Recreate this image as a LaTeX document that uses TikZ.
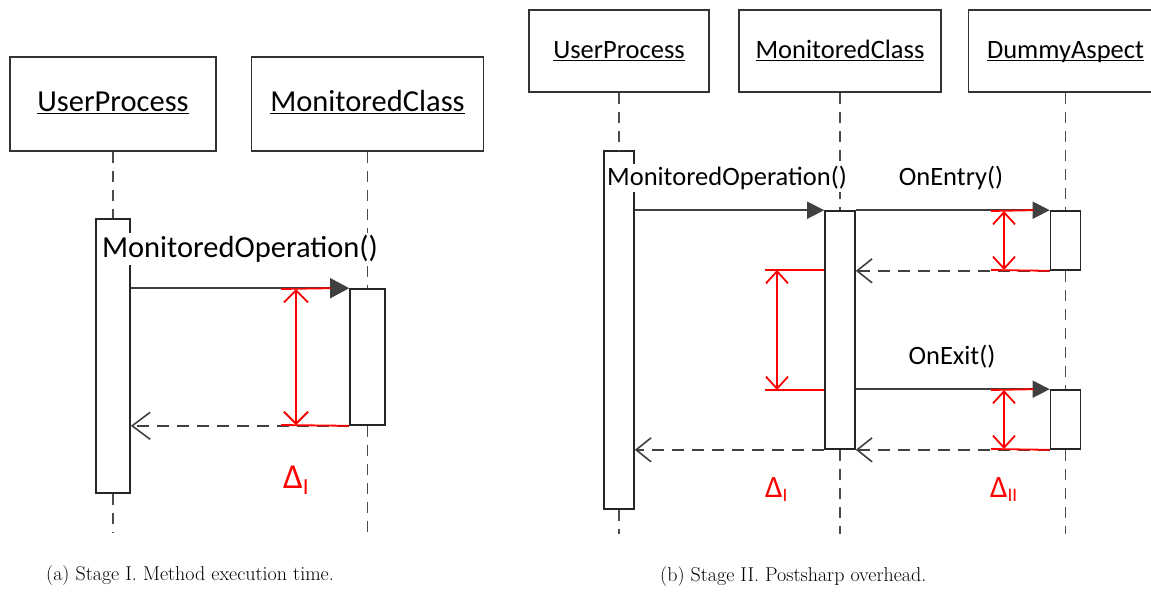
\documentclass[tikz,border=0pt]{standalone}
\usepackage{fontspec}
\newfontfamily\umlfont{Carlito}
\usetikzlibrary{arrows.meta,calc}

% underlined object name, the rule sitting just below the baseline
\newcommand{\objname}[1]{\underline{\smash{#1}}}

\tikzset{
  x=1pt, y=-1pt,
  head/.style={draw=black!80, line width=1.6pt, fill=white, inner sep=0pt, text height=1.6em, text depth=0.12em},
  umltext/.style={font=\umlfont\fontsize{#1}{#1}\selectfont},
  umltext/.default=26.5,
  bar/.style={draw=black!85, line width=1.6pt, fill=white, inner sep=0pt},
  life/.style={draw=black!70, line width=1.6pt, dash pattern=on 11pt off 8pt},
  msg/.style={fill=white, inner sep=2.5pt},
  callA/.style={draw=black!75, fill=black!75, line width=1.6pt, -{Triangle[length=19pt,width=20pt]}},
  callB/.style={draw=black!75, fill=black!75, line width=1.6pt, -{Triangle[length=17pt,width=17pt]}},
  retA/.style={draw=black!75, line width=1.6pt, dash pattern=on 12pt off 8pt, -{Straight Barb[length=18pt,width=27pt]}},
  retB/.style={draw=black!75, line width=1.6pt, dash pattern=on 12pt off 8pt, -{Straight Barb[length=15pt,width=24pt]}},
  redline/.style={draw=red, line width=1.8pt},
  measA/.style={draw=red, line width=1.8pt, {Straight Barb[length=12pt,width=24pt]}-{Straight Barb[length=12pt,width=24pt]}},
  measB/.style={draw=red, line width=1.8pt, {Straight Barb[length=12pt,width=22pt]}-{Straight Barb[length=12pt,width=22pt]}},
  delta/.style={text=red, inner sep=0pt, anchor=base west},
  caption/.style={inner sep=0pt, anchor=base west, font=\fontsize{20}{24}\selectfont},
}

\begin{document}
\begin{tikzpicture}
\useasboundingbox (0,0) rectangle (1151,592);

% ---------------- (a) Stage I ----------------
\node[head, umltext=30.5, minimum width=206, minimum height=94] (aU) at (113,104) {\objname{UserProcess}};
\node[head, umltext=30.5, minimum width=232, minimum height=94] (aM) at (367.5,104) {\objname{MonitoredClass}};

\node[bar, minimum width=34, minimum height=274] (aUa) at (113,356) {};
\node[bar, minimum width=35, minimum height=136] (aMa) at (367.5,357) {};

\coordinate (aUend) at (113,532);
\coordinate (aMend) at (367.5,532);
\draw[life] (aU.south) -- (aUa.north);
\draw[life] (aUa.south) -- (aUend);
\draw[life] (aM.south) -- (aMa.north);
\draw[life] (aMa.south) -- (aMend);

\node[msg, umltext=30.5] (aOp) at (240,249) {MonitoredOperation()};

\draw[callA] (aUa.east |- aMa.north west) -- (aMa.north west);
\draw[retA] (aMa.south west) -- (aUa.east |- aMa.south west);

% measured interval
\coordinate (aDt) at (296,289);
\coordinate (aDb) at (296,425);
\coordinate (aLt) at (281,289);
\coordinate (aLb) at (281,425);
\draw[redline] (aLt) -- ($(aMa.north west)+(-18,0)$);
\draw[redline] (aLb) -- (aMa.south west);
\draw[measA] (aDt) -- (aDb);
\node[delta, umltext=35] (aDelta) at (283,488) {Δ\raisebox{-6pt}{\fontsize{23}{23}\selectfont I}};

\node[caption] (capA) at (46,580) {(a) Stage I. Method execution time.};

% ---------------- (b) Stage II ----------------
\node[head, umltext=26.5, minimum width=180, minimum height=82] (bU) at (619,51) {\objname{UserProcess}};
\node[head, umltext=26.5, minimum width=202, minimum height=82] (bM) at (840,51) {\objname{MonitoredClass}};
\node[head, umltext=26.5, minimum width=194, minimum height=82] (bD) at (1065.5,51) {\objname{DummyAspect}};

\node[bar, minimum width=30, minimum height=358] (bUa) at (619,330) {};
\node[bar, minimum width=30, minimum height=238] (bMa) at (840,330) {};
\node[bar, minimum width=30, minimum height=59] (bDa) at (1065.5,240.5) {};
\node[bar, minimum width=30, minimum height=59] (bDb) at (1065.5,419.5) {};

\coordinate (bUend) at (619,534);
\coordinate (bMend) at (840,534);
\coordinate (bDend) at (1065.5,534);
\draw[life] (bU.south) -- (bUa.north);
\draw[life] (bUa.south) -- (bUend);
\draw[life] (bM.south) -- (bMa.north);
\draw[life] (bMa.south) -- (bMend);
\draw[life] (bD.south) -- (bDa.north);
\draw[life] (bDa.south) -- (bDb.north);
\draw[life] (bDb.south) -- (bDend);

\node[msg, umltext=26.5] (bOp) at (727,178) {MonitoredOperation()};
\node[msg, umltext=26.5] (bEntry) at (951,178) {OnEntry()};
\node[msg, umltext=26.5] (bExit) at (952,357) {OnExit()};

\draw[callB] (bUa.east |- bMa.north west) -- (bMa.north west);
\draw[callB] (bMa.north east) -- (bDa.north west);
\draw[retB] (bDa.south west) -- (bMa.east |- bDa.south west);
\draw[callB] (bMa.east |- bDb.north west) -- (bDb.north west);
\draw[retB] (bDb.south west) -- (bMa.south east);
\draw[retB] (bMa.south west) -- (bUa.east |- bMa.south west);

% interval inside MonitoredClass
\coordinate (bL1) at (765,270);
\coordinate (bL2) at (765,390);
\coordinate (bV1) at (777,270);
\coordinate (bV2) at (777,390);
\draw[redline] (bL1) -- (bMa.west |- bL1);
\draw[redline] (bL2) -- (bMa.west |- bL2);
\draw[measB] (bV1) -- (bV2);

% intervals inside DummyAspect
\coordinate (bR1) at (991,211);
\coordinate (bR2) at (991,270);
\coordinate (bR3) at (991,390);
\coordinate (bR4) at (991,449);
\coordinate (bW1) at (1004,211);
\coordinate (bW2) at (1004,270);
\coordinate (bW3) at (1004,390);
\coordinate (bW4) at (1004,449);
\draw[redline] (bR1) -- ($(bDa.north west)+(-16,0)$);
\draw[redline] (bR2) -- (bDa.south west);
\draw[redline] (bR3) -- ($(bDb.north west)+(-16,0)$);
\draw[redline] (bR4) -- (bDb.south west);
\draw[measB] (bW1) -- (bW2);
\draw[measB] (bW3) -- (bW4);

\node[delta, umltext=31] (bDelta1) at (765,497) {Δ\raisebox{-4pt}{\fontsize{19}{19}\selectfont I}};
\node[delta, umltext=31] (bDelta2) at (990,497) {Δ\raisebox{-4pt}{\fontsize{19}{19}\selectfont II}};

\node[caption] (capB) at (660,581) {(b) Stage II. Postsharp overhead.};
\end{tikzpicture}
\end{document}
